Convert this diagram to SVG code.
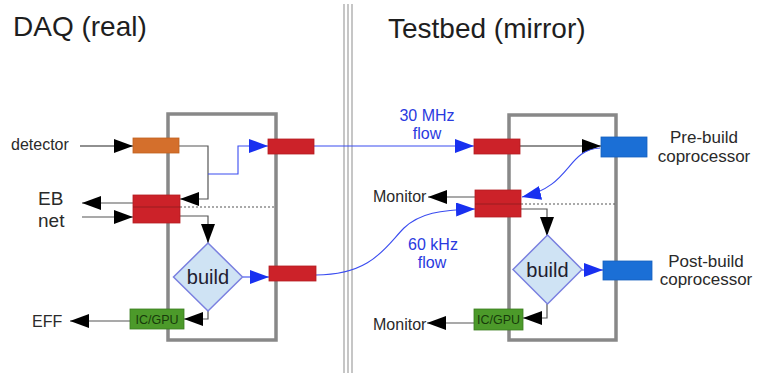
<svg xmlns="http://www.w3.org/2000/svg" width="757" height="373" viewBox="0 0 757 373">
<defs>
<marker id="ak" markerUnits="userSpaceOnUse" markerWidth="19" markerHeight="14" viewBox="0 0 19 14" refX="19" refY="7" orient="auto"><path d="M0,0 L19,7 L0,14 z" fill="#000"/></marker>
<marker id="ab" markerUnits="userSpaceOnUse" markerWidth="19" markerHeight="14" viewBox="0 0 19 14" refX="19" refY="7" orient="auto"><path d="M0,0 L19,7 L0,14 z" fill="#1830f0"/></marker>
</defs>
<style>
text{font-family:"Liberation Sans",Arial,sans-serif;fill:#2a2a2a}
.title{font-size:28px;fill:#1e1e1e}
.lbl{font-size:16px}
.lbl17{font-size:17px}
.blu{font-size:16px;fill:#2a3ae0}
.bld{font-size:20px;fill:#1e2030}
.ic{font-size:12.5px;fill:#173a0a}
.frame{fill:none;stroke:#888;stroke-width:3.5}
.red{fill:#cc2229;stroke:#b51d22;stroke-width:0.8}
.org{fill:#d46f2c;stroke:#c0611f;stroke-width:0.8}
.blue{fill:#1b6fd6;stroke:#1660bd;stroke-width:0.8}
.grn{fill:#4c9a2a;stroke:#3a7d1e;stroke-width:0.8}
.dia{fill:#cfe3f4;stroke:#7a80e0;stroke-width:1.5}
.k{fill:none;stroke:#555;stroke-width:1.2}
.kb{fill:none;stroke:#222;stroke-width:1.2}
.b{fill:none;stroke:#3a4cf0;stroke-width:1.1}
.dot{fill:none;stroke:#555;stroke-width:1.2;stroke-dasharray:2,2}
.sep{stroke:#a0a0a0;stroke-width:1.2}
</style>
<rect width="757" height="373" fill="#fff"/>
<g id="separator">
<line class="sep" x1="344" y1="4" x2="344" y2="373"/>
<line class="sep" x1="348" y1="4" x2="348" y2="373"/>
<line class="sep" x1="352" y1="4" x2="352" y2="373"/>
</g>
<text class="title" x="13" y="36">DAQ (real)</text>
<text class="title" x="388" y="38">Testbed (mirror)</text>
<g id="daq-frame"><rect class="frame" x="168" y="114" width="108" height="226"/></g>
<g id="testbed-frame"><rect class="frame" x="509" y="115" width="107" height="225"/></g>
<g id="connectors">
<path class="kb" d="M80,146 H133" marker-end="url(#ak)"/>
<path class="k" d="M179,146 H208 V199 H180" marker-end="url(#ak)"/>
<path class="b" d="M208,174 H238 V146 H268" marker-end="url(#ab)"/>
<path class="k" d="M133,203 H82" marker-end="url(#ak)"/>
<path class="k" d="M82,217 H133" marker-end="url(#ak)"/>
<path class="k" d="M180,216 H208 V243" marker-end="url(#ak)"/>
<path class="dot" d="M180,207 H275"/>
<path class="b" d="M243,277 H269" marker-end="url(#ab)"/>
<path class="k" d="M208,311 V319 H184" marker-end="url(#ak)"/>
<path class="k" d="M130,321 H70" marker-end="url(#ak)"/>
<path class="b" d="M314,146 H474" marker-end="url(#ab)"/>
<path class="b" d="M316,275 C372,275 386,246 404,228 C420,213 440,210 475,209" marker-end="url(#ab)"/>
<path class="kb" d="M520,146 H601" marker-end="url(#ak)"/>
<path class="b" d="M600,148 C566,150 572,186 522,197" marker-end="url(#ab)"/>
<path class="k" d="M475,197 H428" marker-end="url(#ak)"/>
<path class="k" d="M521,209 H547 V236" marker-end="url(#ak)"/>
<path class="dot" d="M521,204 H616"/>
<path class="b" d="M582,270 H603" marker-end="url(#ab)"/>
<path class="k" d="M547,304 V318 H523" marker-end="url(#ak)"/>
<path class="k" d="M474,323 H427" marker-end="url(#ak)"/>
</g>
<g id="detector-in"><rect class="org" x="133" y="138" width="46" height="15"/></g>
<g id="daq-out-top"><rect class="red" x="268" y="139" width="46" height="15"/></g>
<g id="eb-port"><rect class="red" x="133" y="195" width="47" height="28"/><line x1="133" y1="207" x2="180" y2="207" stroke="#7a1a1a" stroke-width="1" opacity="0.6"/></g>
<g id="daq-build"><path class="dia" d="M208,243 L242.5,277 L208,311 L173.5,277 z"/><text class="bld" x="208" y="284" text-anchor="middle">build</text></g>
<g id="daq-out-bottom"><rect class="red" x="269" y="266" width="47" height="15"/></g>
<g id="daq-icgpu"><rect class="grn" x="130" y="309" width="54" height="20"/><text class="ic" x="157" y="324" text-anchor="middle">IC/GPU</text></g>
<g id="tb-in-top"><rect class="red" x="474" y="139" width="46" height="15"/></g>
<g id="tb-mid"><rect class="red" x="475" y="190" width="46" height="27"/><line x1="475" y1="204" x2="521" y2="204" stroke="#7a1a1a" stroke-width="1" opacity="0.6"/></g>
<g id="pre-build"><rect class="blue" x="601" y="137" width="46" height="20"/></g>
<g id="tb-build"><path class="dia" d="M547.5,235 L582,269.5 L547.5,304 L513,269.5 z"/><text class="bld" x="547.5" y="277" text-anchor="middle">build</text></g>
<g id="post-build"><rect class="blue" x="603" y="261" width="49" height="19"/></g>
<g id="tb-icgpu"><rect class="grn" x="474" y="309" width="49" height="21"/><text class="ic" x="498.5" y="324" text-anchor="middle">IC/GPU</text></g>
<g id="labels">
<text class="lbl" x="11" y="150">detector</text>
<text class="lbl" x="38" y="205" style="font-size:19px">EB</text>
<text class="lbl" x="38" y="227" style="font-size:19px">net</text>
<text class="lbl" x="32" y="327">EFF</text>
<text class="blu" x="427" y="121" text-anchor="middle">30 MHz</text>
<text class="blu" x="427" y="139" text-anchor="middle">flow</text>
<text class="blu" x="433" y="250" text-anchor="middle">60 kHz</text>
<text class="blu" x="432" y="268" text-anchor="middle">flow</text>
<text class="lbl" x="373" y="202">Monitor</text>
<text class="lbl" x="373" y="330">Monitor</text>
<text class="lbl17" x="704" y="143" text-anchor="middle">Pre-build</text>
<text class="lbl17" x="704" y="162" text-anchor="middle">coprocessor</text>
<text class="lbl17" x="706" y="267" text-anchor="middle">Post-build</text>
<text class="lbl17" x="706" y="285" text-anchor="middle">coprocessor</text>
</g>
</svg>
